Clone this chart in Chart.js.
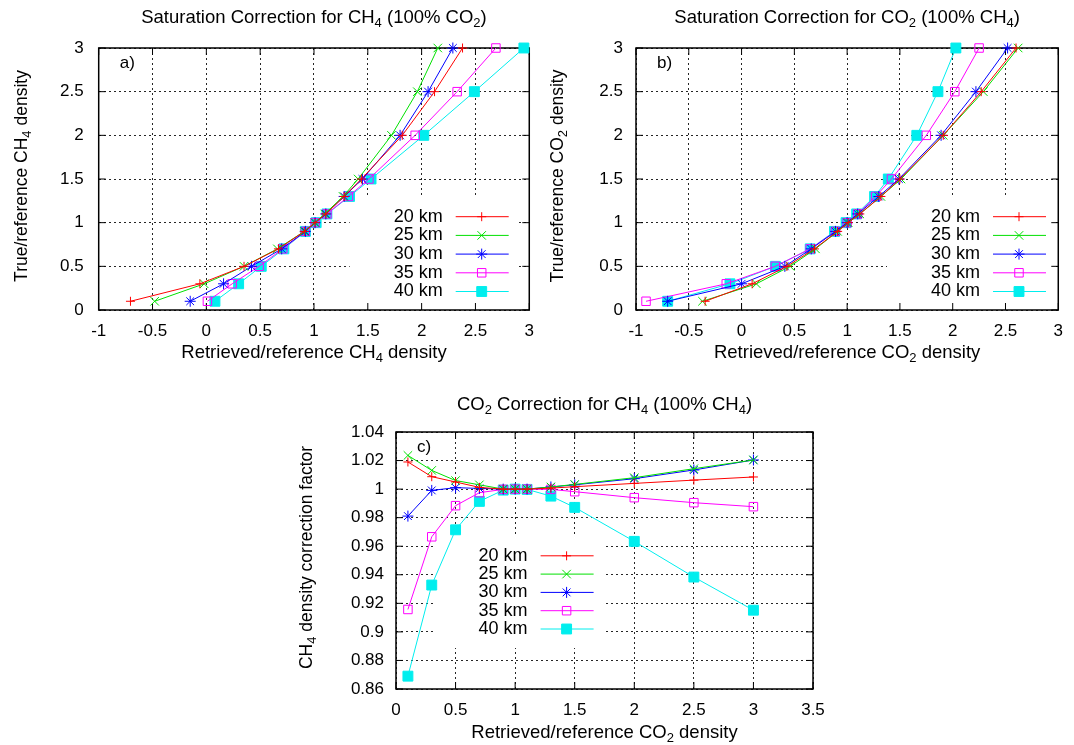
<!DOCTYPE html>
<html>
<head>
<meta charset="utf-8">
<script src="https://cdn.jsdelivr.net/npm/chart.js@4.4.1/dist/chart.umd.min.js"></script>
<style>
body { margin: 0; background: #fff; width: 1074px; height: 745px; overflow: hidden; position: relative; }
.panel { position: absolute; }
</style>
</head>
<body>
<div class="panel" style="left:0;top:0;width:545px;height:375px"><canvas id="chA"></canvas></div>
<div class="panel" style="left:545px;top:0;width:529px;height:375px"><canvas id="chB"></canvas></div>
<div class="panel" style="left:280px;top:375px;width:560px;height:370px"><canvas id="chC"></canvas></div>
<script>
// reference density ratios (y in a/b, x in c)
var levels = [0.1, 0.3, 0.5, 0.7, 0.9, 1.0, 1.1, 1.3, 1.5, 2, 2.5, 3];
var names = ['20 km', '25 km', '30 km', '35 km', '40 km'];

// a) retrieved/reference CH4 density
var a20 = [-0.705, -0.06, 0.35, 0.67, 0.91, 1.01, 1.11, 1.28, 1.44, 1.82, 2.12, 2.38];
var a25 = [-0.48, -0.02, 0.35, 0.66, 0.91, 1.01, 1.10, 1.27, 1.41, 1.72, 1.96, 2.15];
var a30 = [-0.15, 0.16, 0.42, 0.70, 0.92, 1.01, 1.11, 1.28, 1.45, 1.80, 2.06, 2.29];
var a35 = [0.01, 0.24, 0.49, 0.71, 0.92, 1.01, 1.12, 1.32, 1.51, 1.94, 2.33, 2.69];
var a40 = [0.08, 0.30, 0.51, 0.72, 0.92, 1.02, 1.12, 1.33, 1.53, 2.02, 2.49, 2.95];

// b) retrieved/reference CO2 density
var b20 = [-0.345, 0.10, 0.43, 0.69, 0.91, 1.01, 1.12, 1.32, 1.50, 1.91, 2.27, 2.60];
var b25 = [-0.37, 0.14, 0.46, 0.70, 0.91, 1.01, 1.12, 1.32, 1.51, 1.91, 2.29, 2.62];
var b30 = [-0.70, 0.0, 0.41, 0.66, 0.89, 1.0, 1.10, 1.30, 1.49, 1.89, 2.22, 2.52];
var b35 = [-0.905, -0.145, 0.32, 0.65, 0.89, 1.0, 1.10, 1.27, 1.42, 1.75, 2.02, 2.25];
var b40 = [-0.70, -0.11, 0.32, 0.65, 0.88, 0.99, 1.09, 1.26, 1.39, 1.66, 1.86, 2.03];

// c) CH4 density correction factor
var c20 = [1.019, 1.0087, 1.005, 1.0012, 1.0, 1.0, 1.0, 1.0007, 1.0017, 1.004, 1.0063, 1.0085];
var c25 = [1.0236, 1.0131, 1.006, 1.003, 1.0, 1.0, 1.0, 1.0015, 1.0033, 1.008, 1.0143, 1.0204];
var c30 = [0.9811, 0.9991, 1.001, 1.0005, 1.0, 1.0, 1.0, 1.0015, 1.003, 1.0073, 1.0134, 1.0204];
var c35 = [0.9157, 0.9666, 0.9884, 0.9975, 0.9998, 1.0, 1.0, 0.9998, 0.9982, 0.994, 0.9905, 0.9877];
var c40 = [0.869, 0.9328, 0.9715, 0.9914, 0.9993, 1.0, 0.9998, 0.9951, 0.9872, 0.9634, 0.9384, 0.9152];

var ratioTicks = [-1, -0.5, 0, 0.5, 1, 1.5, 2, 2.5, 3];
var levelTicks = [0, 0.5, 1, 1.5, 2, 2.5, 3];
var cxTicks = [0, 0.5, 1, 1.5, 2, 2.5, 3, 3.5];
var cyTicks = [0.86, 0.88, 0.9, 0.92, 0.94, 0.96, 0.98, 1, 1.02, 1.04];

var FONT = "'Liberation Sans', Arial, sans-serif";
var styles = [
    { color: '#ff0000', point: 'cross', r: 4.5, fill: '#ff0000' },
    { color: '#00e000', point: 'crossRot', r: 6, fill: '#00e000' },
    { color: '#0000ff', point: 'star', r: 5.5, fill: '#0000ff' },
    { color: '#ff00ff', point: 'rect', r: 6, fill: 'rgba(0,0,0,0)' },
    { color: '#00eeee', point: 'rect', r: 7, fill: '#00eeee' }
];

function pairs(xs, ys) {
    return xs.map(function(x, i) { return { x: x, y: ys[i] }; });
}

function makeSets(list) {
    return list.map(function(pts, i) {
        var s = styles[i];
        return {
            label: names[i],
            data: pts,
            showLine: true,
            borderColor: s.color,
            backgroundColor: s.fill,
            borderWidth: 1,
            pointStyle: s.point,
            pointRadius: s.r,
            pointBorderWidth: 1,
            pointBorderColor: s.color,
            pointBackgroundColor: s.fill,
            clip: false
        };
    });
}

// text with single-char subscripts written as _4
function richText(ctx, str, x, y, rot, size) {
    var parts = [], re = /_(.)/g, last = 0, m;
    while ((m = re.exec(str)) !== null) {
        if (m.index > last) parts.push({ t: str.slice(last, m.index), sub: false });
        parts.push({ t: m[1], sub: true });
        last = re.lastIndex;
    }
    if (last < str.length) parts.push({ t: str.slice(last), sub: false });
    var subSize = Math.round(size * 0.72);
    ctx.save();
    ctx.translate(x, y);
    ctx.rotate(rot || 0);
    ctx.fillStyle = '#000';
    ctx.textBaseline = 'middle';
    ctx.textAlign = 'left';
    var w = 0;
    parts.forEach(function(p) {
        ctx.font = (p.sub ? subSize : size) + 'px ' + FONT;
        p.w = ctx.measureText(p.t).width;
        w += p.w;
    });
    var cx = -w / 2;
    parts.forEach(function(p) {
        ctx.font = (p.sub ? subSize : size) + 'px ' + FONT;
        ctx.fillText(p.t, cx, p.sub ? size * 0.3 : 0);
        cx += p.w;
    });
    ctx.restore();
}

var panelPlugin = {
    id: 'panel',
    beforeDatasetsDraw: function(chart) {
        var p = chart.options.plugins.panel, a = chart.chartArea, ctx = chart.ctx;
        var kx = a.left + p.keyX, ky = a.top + p.keyY;
        ctx.save();
        // the key hides the grid behind it
        var kb = Math.min(a.bottom - 1, ky + 4 * p.keyStep + 19);
        ctx.fillStyle = '#fff';
        ctx.fillRect(kx - 93, ky - 19, 169, kb - (ky - 19));
        // frame with inward ticks on all four sides
        ctx.strokeStyle = '#000';
        ctx.lineWidth = 1.5;
        ctx.strokeRect(a.left, a.top, a.right - a.left, a.bottom - a.top);
        ctx.lineWidth = 1;
        ctx.beginPath();
        chart.scales.x.ticks.forEach(function(t) {
            var x = chart.scales.x.getPixelForValue(t.value);
            ctx.moveTo(x, a.bottom); ctx.lineTo(x, a.bottom - 7);
            ctx.moveTo(x, a.top); ctx.lineTo(x, a.top + 7);
        });
        chart.scales.y.ticks.forEach(function(t) {
            var y = chart.scales.y.getPixelForValue(t.value);
            ctx.moveTo(a.left, y); ctx.lineTo(a.left + 7, y);
            ctx.moveTo(a.right, y); ctx.lineTo(a.right - 7, y);
        });
        ctx.stroke();
        ctx.restore();
    },
    afterDatasetsDraw: function(chart) {
        var p = chart.options.plugins.panel, a = chart.chartArea, ctx = chart.ctx;
        var kx = a.left + p.keyX, ky = a.top + p.keyY;
        ctx.save();
        chart.data.datasets.forEach(function(ds, i) {
            var y = ky + i * p.keyStep;
            ctx.fillStyle = '#000';
            ctx.font = '18px ' + FONT;
            ctx.textAlign = 'right';
            ctx.textBaseline = 'middle';
            ctx.fillText(ds.label, kx, y);
            ctx.strokeStyle = ds.borderColor;
            ctx.lineWidth = 1;
            ctx.beginPath();
            ctx.moveTo(kx + 13, y);
            ctx.lineTo(kx + 66, y);
            ctx.stroke();
            ctx.fillStyle = ds.pointBackgroundColor;
            Chart.helpers.drawPoint(ctx, {
                pointStyle: ds.pointStyle, radius: ds.pointRadius, rotation: 0, borderWidth: 1
            }, kx + 39, y);
        });
        ctx.restore();
    },
    afterDraw: function(chart) {
        var p = chart.options.plugins.panel, a = chart.chartArea, ctx = chart.ctx;
        var mid = (a.left + a.right) / 2;
        richText(ctx, p.title, mid, a.top + p.titleDy, 0, 18.5);
        richText(ctx, p.xTitle, mid, a.bottom + p.xTitleDy, 0, 18.5);
        richText(ctx, p.yTitle, a.left + p.yTitleDx, (a.top + a.bottom) / 2 - 3, -Math.PI / 2, 17.5);
        ctx.save();
        ctx.fillStyle = '#000';
        ctx.font = '17px ' + FONT;
        ctx.textBaseline = 'middle';
        ctx.fillText(p.tag, a.left + 21, a.top + 15);
        ctx.restore();
    }
};

function axis(min, max, vals, size, isX, pad) {
    return {
        type: 'linear',
        min: min,
        max: max,
        afterBuildTicks: function(s) { s.ticks = vals.map(function(v) { return { value: v }; }); },
        afterFit: function(s) { if (isX) s.height = size; else s.width = size; },
        ticks: {
            color: '#000',
            padding: pad,
            autoSkip: false,
            maxRotation: 0,
            font: { family: FONT, size: 17 },
            callback: function(v) { return String(v); }
        },
        grid: { color: 'rgba(0,0,0,0.85)', lineWidth: 1, drawTicks: false },
        border: { display: false, dash: [2, 3] }
    };
}

function makeChart(id, sets, sc, padding, panel) {
    return new Chart(document.getElementById(id).getContext('2d'), {
        type: 'scatter',
        data: { datasets: sets },
        options: {
            responsive: true,
            maintainAspectRatio: false,
            animation: false,
            layout: { padding: padding },
            scales: sc,
            plugins: { legend: { display: false }, tooltip: { enabled: false }, panel: panel }
        },
        plugins: [panelPlugin]
    });
}

makeChart('chA',
    makeSets([pairs(a20, levels), pairs(a25, levels), pairs(a30, levels), pairs(a35, levels), pairs(a40, levels)]),
    { x: axis(-1, 3, ratioTicks, 65, true, 11), y: axis(0, 3, levelTicks, 98.7, false, 15) },
    { left: 0, top: 48, right: 12.3, bottom: 0 },
    { title: 'Saturation Correction for CH_4 (100% CO_2)', xTitle: 'Retrieved/reference CH_4 density',
      yTitle: 'True/reference CH_4 density', tag: 'a)', titleDy: -30, xTitleDy: 43, yTitleDx: -77,
      keyX: 344, keyY: 168.7, keyStep: 18.7 });

makeChart('chB',
    makeSets([pairs(b20, levels), pairs(b25, levels), pairs(b30, levels), pairs(b35, levels), pairs(b40, levels)]),
    { x: axis(-1, 3, ratioTicks, 65, true, 11), y: axis(0, 3, levelTicks, 91, false, 13) },
    { left: 0, top: 48, right: 6, bottom: 0 },
    { title: 'Saturation Correction for CO_2 (100% CH_4)', xTitle: 'Retrieved/reference CO_2 density',
      yTitle: 'True/reference CO_2 density', tag: 'b)', titleDy: -30, xTitleDy: 43, yTitleDx: -78,
      keyX: 344, keyY: 168.7, keyStep: 18.7 });

makeChart('chC',
    makeSets([pairs(levels, c20), pairs(levels, c25), pairs(levels, c30), pairs(levels, c35), pairs(levels, c40)]),
    { x: axis(0, 3.5, cxTicks, 56, true, 11), y: axis(0.86, 1.04, cyTicks, 116, false, 12) },
    { left: 0, top: 57, right: 27, bottom: 0 },
    { title: 'CO_2 Correction for CH_4 (100% CH_4)', xTitle: 'Retrieved/reference CO_2 density',
      yTitle: 'CH_4 density correction factor', tag: 'c)', titleDy: -27, xTitleDy: 44, yTitleDx: -89,
      keyX: 131.6, keyY: 123.8, keyStep: 18.3 });
</script>
</body>
</html>
